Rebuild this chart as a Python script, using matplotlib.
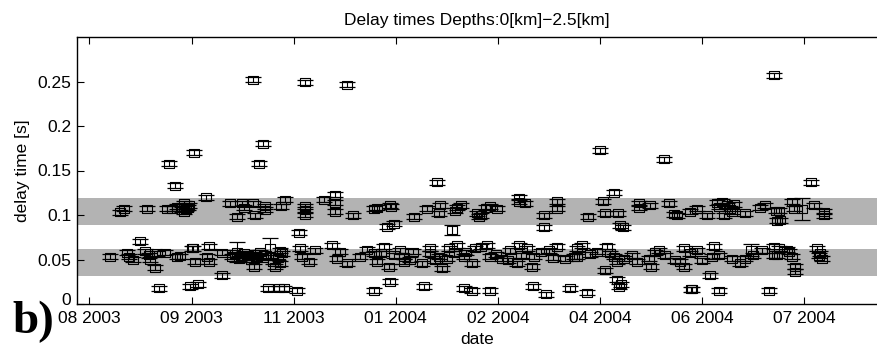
import numpy as np
import matplotlib
matplotlib.use("Agg")
import matplotlib.pyplot as plt
import matplotlib.dates as mdates
import matplotlib.transforms as mtransforms

plt.rcParams['font.family'] = ['Liberation Sans', 'DejaVu Sans']

# days are counted from 2003-08-01
start_date = '2003-08-01'

upper_days = [15.8, 17.5, 29.4, 39.6, 42, 44.7, 46.5, 48.2, 49, 50.7, 48, 47, 50, 59.6, 71.8,
              77.7, 78.6, 83.3, 84.5, 75.2, 89.6, 89.6, 97.6, 99.8, 110, 110, 110, 119.3, 125,
              125.3, 125.3, 134.3, 144.8, 146.5, 153.6, 153, 151.3, 155, 165.5, 172, 178.7,
              177.8, 187.2, 189, 186.4, 197.4, 198.3, 199.4, 202, 204.2, 207.6, 218.6, 218.6,
              222, 231.4, 231.4, 238.1, 238.1, 253.8, 261.6, 262.7, 267, 269, 270, 271.7, 279.7,
              279.7, 285.3, 295, 297.6, 299.3, 306, 309.4, 314.5, 319.6, 320.5, 322.2, 323,
              324.7, 326, 327.2, 328, 334, 341.6, 344.2, 349.8, 350.1, 351, 351.8, 357.8, 358.7,
              368.9, 374, 374]
upper_vals = [0.103, 0.107, 0.107, 0.107, 0.107, 0.109, 0.109, 0.113, 0.107, 0.111, 0.1035, 0.106,
              0.108, 0.120, 0.113, 0.113, 0.108, 0.113, 0.0998, 0.098, 0.110, 0.106, 0.110, 0.117,
              0.110, 0.106, 0.100, 0.117, 0.123, 0.114, 0.1035, 0.0998, 0.107, 0.108, 0.109, 0.111,
              0.087, 0.090, 0.098, 0.107, 0.111, 0.102, 0.108, 0.111, 0.105, 0.1017, 0.098, 0.0998,
              0.108, 0.110, 0.107, 0.1196, 0.115, 0.113, 0.0998, 0.086, 0.1155, 0.107, 0.098,
              0.1155, 0.102, 0.125, 0.102, 0.0886, 0.086, 0.113, 0.108, 0.111, 0.113, 0.101,
              0.0998, 0.1035, 0.107, 0.0998, 0.1136, 0.109, 0.115, 0.0998, 0.111, 0.107, 0.1035,
              0.112, 0.102, 0.108, 0.111, 0.105, 0.0934, 0.105, 0.094, 0.1147, 0.107, 0.111,
              0.1035, 0.0998]

lower_days = [10.7, 19.2, 20, 22.3, 25.6, 28.5, 30.2, 31, 33.6, 34.5, 38.7, 44.7, 46.3, 52.3, 53,
              54, 60, 60.8, 60.8, 67.6, 67.6, 72.5, 74, 76, 77, 78.5, 80, 81, 82.5, 83.8, 84,
              85.5, 87, 88.5, 90, 93.7, 94.5, 96, 97, 97.2, 98, 107.4, 108.2, 111.6, 115, 123.6,
              126, 127.8, 131.2, 138, 141.4, 144.8, 146.5, 148.5, 150, 152.4, 155, 158.3, 160,
              160, 163, 165, 169.4, 173.6, 173.6, 176, 177.8, 179.6, 182, 183, 185.5, 187.2,
              190.6, 192, 194.9, 196.5, 199.4, 202.5, 204.2, 207, 210.1, 213, 214.3, 217.7, 218.6,
              220, 222.8, 225.4, 226.3, 229.7, 233.9, 236, 238.1, 242.4, 246.6, 248.3, 248.3,
              250.9, 255, 258.5, 262.7, 263.6, 265.2, 267, 268.7, 272, 276.3, 278.9, 284.8,
              285.7, 288, 290, 293.3, 298.4, 300.8, 302.6, 302.6, 306, 309.4, 312, 315.9, 317,
              317.9, 320.5, 327.2, 331.4, 334, 338, 342.4, 348.5, 348.5, 350.1, 351, 355, 356.1,
              357.8, 359.5, 359.5, 370.5, 371.5, 372.2, 373.1]
lower_vals = [0.053, 0.0575, 0.053, 0.050, 0.0706, 0.0594, 0.055, 0.050, 0.041, 0.0568, 0.0575,
              0.053, 0.0538, 0.0624, 0.0624, 0.0475, 0.053, 0.065, 0.0475, 0.0575, 0.0325, 0.053,
              0.056, 0.051, 0.054, 0.057, 0.052, 0.055, 0.050, 0.042, 0.056, 0.053, 0.058, 0.052,
              0.055, 0.0475, 0.042, 0.052, 0.060, 0.0456, 0.057, 0.0624, 0.053, 0.0475, 0.0605,
              0.066, 0.051, 0.0587, 0.0456, 0.053, 0.0612, 0.0568, 0.0475, 0.057, 0.0643, 0.042,
              0.055, 0.0605, 0.053, 0.0475, 0.050, 0.0587, 0.0456, 0.0624, 0.057, 0.049, 0.053,
              0.040, 0.051, 0.0624, 0.057, 0.066, 0.053, 0.058, 0.0456, 0.0624, 0.0643, 0.066,
              0.053, 0.056, 0.051, 0.049, 0.0605, 0.0456, 0.066, 0.055, 0.0624, 0.042, 0.053,
              0.0587, 0.0605, 0.052, 0.0643, 0.051, 0.053, 0.0624, 0.053, 0.066, 0.056, 0.0587,
              0.038, 0.0643, 0.057, 0.053, 0.0475, 0.051, 0.055, 0.0475, 0.051, 0.042, 0.058,
              0.0605, 0.055, 0.049, 0.0475, 0.0624, 0.042, 0.057, 0.0605, 0.049, 0.0325, 0.053,
              0.065, 0.055, 0.051, 0.0456, 0.051, 0.055, 0.0605, 0.0643, 0.055, 0.055, 0.0624,
              0.061, 0.0587, 0.053, 0.042, 0.036, 0.0624, 0.054, 0.057, 0.051]

outlier_days = [35.3, 51.4, 55.2, 90.8, 96.4, 99, 105.8, 144.8, 153.3, 170.3, 190.7, 194.9, 203.9,
                225.9, 232.3, 244.6, 253.4, 268.7, 269.6, 270.5, 306.4, 307, 320.5, 346,
                40.4, 43.5, 53.2, 86.2, 88.4, 83.5, 109.8, 131.2, 177, 259.9, 292.8, 348.4,
                367.6, 106.6]
outlier_vals = [0.0176, 0.020, 0.0224, 0.0176, 0.0176, 0.0176, 0.015, 0.015, 0.025, 0.020,
                0.0176, 0.015, 0.015, 0.020, 0.0112, 0.0176, 0.0127, 0.027, 0.0194, 0.022,
                0.0164, 0.0164, 0.015, 0.015,
                0.1577, 0.1327, 0.170, 0.1577, 0.180, 0.2522, 0.249, 0.2466, 0.137, 0.1727,
                0.1625, 0.257, 0.137, 0.080]

# points with visibly larger error bars
wide_days = [75.2, 92, 184.7, 336.6, 362.9]
wide_vals = [0.0587, 0.0624, 0.083, 0.0605, 0.107]
wide_err = [0.011, 0.0115, 0.006, 0.007, 0.0125]

small_err = 0.0028
bands = [(0.0317, 0.0617), (0.089, 0.1188)]
tick_step = 52  # days between date ticks

base = mdates.date2num(np.datetime64(start_date))
rect = [(-0.5, -0.4), (0.5, -0.4), (0.5, 0.4), (-0.5, 0.4), (-0.5, -0.4)]

fig = plt.figure(figsize=(8.77, 3.54), dpi=100)
ax = fig.add_axes([77 / 877, 50 / 354, 800 / 877, 267 / 354])

for lo, hi in bands:
    ax.axhspan(lo, hi, color='#b3b3b3', lw=0, zorder=0)

style = dict(fmt='none', ecolor='k', elinewidth=0.8, capsize=5.5, capthick=0.9, zorder=2)
mstyle = dict(ls='none', marker=rect, ms=7.8, mfc='none', mec='k', mew=0.8, zorder=3)

all_days = np.array(upper_days + lower_days + outlier_days)
all_vals = np.array(upper_vals + lower_vals + outlier_vals)
ax.errorbar(base + all_days, all_vals, yerr=small_err, **style)
ax.plot(base + all_days, all_vals, **mstyle)
ax.errorbar(base + np.array(wide_days), wide_vals, yerr=wide_err, **style)
ax.plot(base + np.array(wide_days), wide_vals, **mstyle)

ax.set_xlim(base - 6.3, base + 401)
ax.set_ylim(0, 0.3)
ax.set_yticks([0, 0.05, 0.1, 0.15, 0.2, 0.25])
ax.set_yticklabels(['0', '0.05', '0.1', '0.15', '0.2', '0.25'])
ax.set_xticks(base + tick_step * np.arange(8))
ax.xaxis.set_major_formatter(mdates.DateFormatter('%m %Y'))
ax.tick_params(direction='in', length=5, width=0.8, labelsize=12.5, top=True, right=False,
               colors='k')
ax.tick_params(axis='x', pad=5)
ax.tick_params(axis='y', pad=4)
ax.spines['right'].set_visible(False)
for s in ['left', 'top', 'bottom']:
    ax.spines[s].set_linewidth(1.0)

# lift the "0" label a little so it sits above the first date label
zero_lab = ax.get_yticklabels()[0]
zero_lab.set_transform(zero_lab.get_transform() +
                       mtransforms.ScaledTranslation(0, 5 / 100, fig.dpi_scale_trans))

ax.set_xlabel('date', fontsize=12.5, labelpad=4)
ax.set_ylabel('delay time [s]', fontsize=12.5, labelpad=5)
ax.set_title('Delay times Depths:0[km]\u22122.5[km]', fontsize=12.5, pad=9)

fig.text(12 / 877, 1 - 333 / 354, 'b)', fontsize=34, fontweight='bold',
         family='Liberation Serif', ha='left', va='baseline')

plt.savefig('out.png', dpi=100)
